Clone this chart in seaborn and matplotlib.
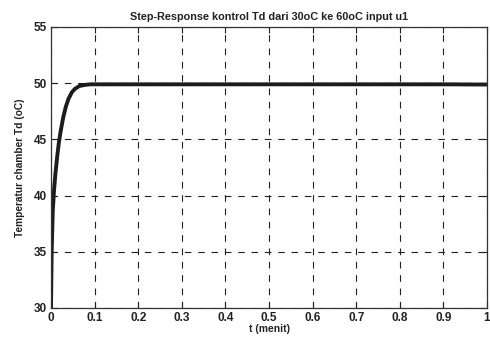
import matplotlib
matplotlib.use("Agg")
import matplotlib.pyplot as plt
import seaborn as sns
import pandas as pd

# Data
t_menit = [0.0, 0.0015, 0.004, 0.007, 0.010, 0.014, 0.018, 0.022, 0.028, 0.034, 0.040,
           0.048, 0.055, 0.065, 0.078, 0.09, 0.1, 0.2, 0.3, 0.4, 0.5, 0.6, 0.7,
           0.8, 0.9, 1.0]
temp_td = [30.0, 35.0, 38.6, 40.5, 41.9, 43.4, 44.7, 45.7, 46.95, 47.9, 48.6,
           49.2, 49.5, 49.75, 49.85, 49.9, 49.9, 49.9, 49.9, 49.9, 49.9, 49.9, 49.9,
           49.9, 49.9, 49.88]
x_ticks = [0, 0.1, 0.2, 0.3, 0.4, 0.5, 0.6, 0.7, 0.8, 0.9, 1]
x_tick_labels = ["0", "0.1", "0.2", "0.3", "0.4", "0.5", "0.6", "0.7", "0.8", "0.9", "1"]
y_ticks = [30, 35, 40, 45, 50, 55]

df = pd.DataFrame({"t": t_menit, "T": temp_td})

sns.set_style("ticks")
plt.rcParams["font.family"] = ["Liberation Sans", "DejaVu Sans"]

fig = plt.figure(figsize=(4.9, 3.37), dpi=100)
ax = fig.add_axes([51 / 490, 29 / 337, 436 / 490, 281 / 337])

sns.lineplot(data=df, x="t", y="T", ax=ax, color="#1c1c1c", linewidth=2.8)

ax.set_xlim(0, 1)
ax.set_ylim(30, 55)
ax.set_xticks(x_ticks)
ax.set_xticklabels(x_tick_labels)
ax.set_yticks(y_ticks)

ax.grid(True, color="#222222", linestyle=(0, (6, 6)), linewidth=0.8)
for s in ax.spines.values():
    s.set_color("#333333")
    s.set_linewidth(0.9)
ax.tick_params(direction="in", length=4, width=0.8, top=True, right=True,
               labelsize=8.5, pad=3, colors="#222222")
for lab in ax.get_xticklabels() + ax.get_yticklabels():
    lab.set_fontweight("bold")

ax.set_title("Step-Response kontrol Td dari 30oC ke 60oC input u1",
             fontsize=7.8, fontweight="bold", pad=5, color="#222222")
ax.set_xlabel("t (menit)", fontsize=7.5, fontweight="bold", labelpad=0, color="#222222")
ax.set_ylabel("Temperatur chamber Td (oC)", fontsize=7.3, fontweight="bold",
              labelpad=6, color="#222222")

fig.savefig("out.png", dpi=100, facecolor="white")
